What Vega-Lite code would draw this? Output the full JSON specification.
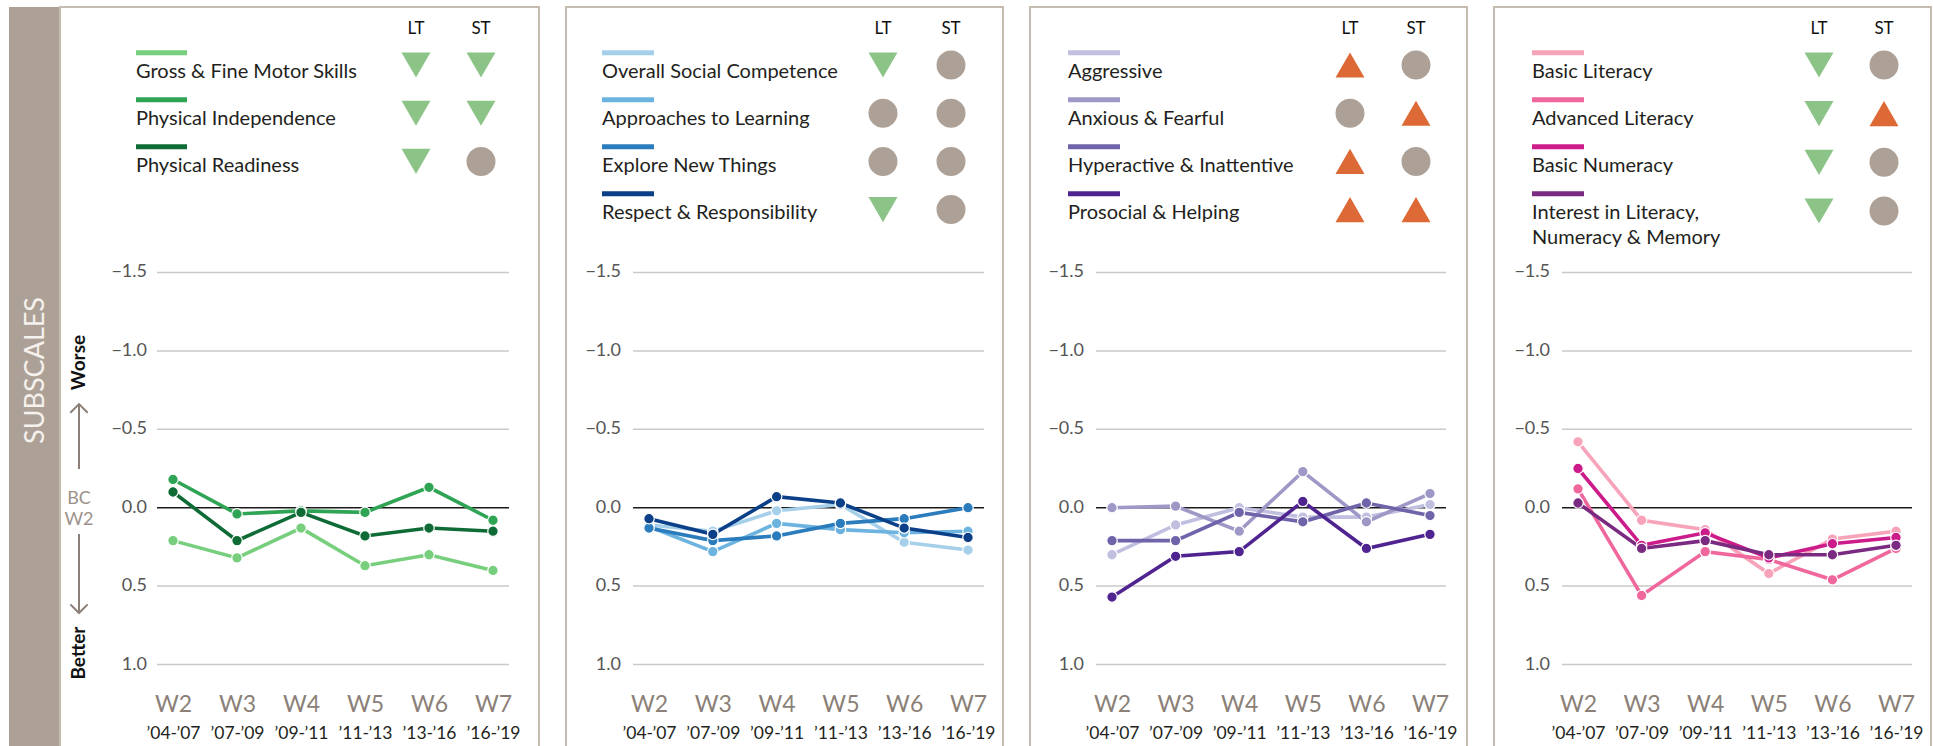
{
  "$schema": "https://vega.github.io/schema/vega-lite/v6.json",
  "padding": {"left": 9, "top": 6, "right": 0, "bottom": 0},
  "config": {
    "font": "Lato",
    "view": {"stroke": "#c6bbb1", "strokeWidth": 2},
    "text": {"font": "Lato"},
    "axis": {"labelFont": "Lato"}
  },
  "datasets": {
    "grid": [{"g": -1.5}, {"g": -1.0}, {"g": -0.5}, {"g": 0}, {"g": 0.5}, {"g": 1.0}],
    "lines": [
      {"panel": "Physical", "name": "Gross & Fine Motor Skills", "wave": "W2", "value": 0.21},
      {"panel": "Physical", "name": "Gross & Fine Motor Skills", "wave": "W3", "value": 0.32},
      {"panel": "Physical", "name": "Gross & Fine Motor Skills", "wave": "W4", "value": 0.13},
      {"panel": "Physical", "name": "Gross & Fine Motor Skills", "wave": "W5", "value": 0.37},
      {"panel": "Physical", "name": "Gross & Fine Motor Skills", "wave": "W6", "value": 0.30},
      {"panel": "Physical", "name": "Gross & Fine Motor Skills", "wave": "W7", "value": 0.40},
      {"panel": "Physical", "name": "Physical Independence", "wave": "W2", "value": -0.18},
      {"panel": "Physical", "name": "Physical Independence", "wave": "W3", "value": 0.04},
      {"panel": "Physical", "name": "Physical Independence", "wave": "W4", "value": 0.02},
      {"panel": "Physical", "name": "Physical Independence", "wave": "W5", "value": 0.03},
      {"panel": "Physical", "name": "Physical Independence", "wave": "W6", "value": -0.13},
      {"panel": "Physical", "name": "Physical Independence", "wave": "W7", "value": 0.08},
      {"panel": "Physical", "name": "Physical Readiness", "wave": "W2", "value": -0.10},
      {"panel": "Physical", "name": "Physical Readiness", "wave": "W3", "value": 0.21},
      {"panel": "Physical", "name": "Physical Readiness", "wave": "W4", "value": 0.03},
      {"panel": "Physical", "name": "Physical Readiness", "wave": "W5", "value": 0.18},
      {"panel": "Physical", "name": "Physical Readiness", "wave": "W6", "value": 0.13},
      {"panel": "Physical", "name": "Physical Readiness", "wave": "W7", "value": 0.15},
      {"panel": "Social", "name": "Overall Social Competence", "wave": "W2", "value": 0.11},
      {"panel": "Social", "name": "Overall Social Competence", "wave": "W3", "value": 0.15},
      {"panel": "Social", "name": "Overall Social Competence", "wave": "W4", "value": 0.02},
      {"panel": "Social", "name": "Overall Social Competence", "wave": "W5", "value": -0.02},
      {"panel": "Social", "name": "Overall Social Competence", "wave": "W6", "value": 0.22},
      {"panel": "Social", "name": "Overall Social Competence", "wave": "W7", "value": 0.27},
      {"panel": "Social", "name": "Approaches to Learning", "wave": "W2", "value": 0.12},
      {"panel": "Social", "name": "Approaches to Learning", "wave": "W3", "value": 0.28},
      {"panel": "Social", "name": "Approaches to Learning", "wave": "W4", "value": 0.10},
      {"panel": "Social", "name": "Approaches to Learning", "wave": "W5", "value": 0.14},
      {"panel": "Social", "name": "Approaches to Learning", "wave": "W6", "value": 0.16},
      {"panel": "Social", "name": "Approaches to Learning", "wave": "W7", "value": 0.15},
      {"panel": "Social", "name": "Explore New Things", "wave": "W2", "value": 0.13},
      {"panel": "Social", "name": "Explore New Things", "wave": "W3", "value": 0.21},
      {"panel": "Social", "name": "Explore New Things", "wave": "W4", "value": 0.18},
      {"panel": "Social", "name": "Explore New Things", "wave": "W5", "value": 0.10},
      {"panel": "Social", "name": "Explore New Things", "wave": "W6", "value": 0.07},
      {"panel": "Social", "name": "Explore New Things", "wave": "W7", "value": 0.00},
      {"panel": "Social", "name": "Respect & Responsibility", "wave": "W2", "value": 0.07},
      {"panel": "Social", "name": "Respect & Responsibility", "wave": "W3", "value": 0.17},
      {"panel": "Social", "name": "Respect & Responsibility", "wave": "W4", "value": -0.07},
      {"panel": "Social", "name": "Respect & Responsibility", "wave": "W5", "value": -0.03},
      {"panel": "Social", "name": "Respect & Responsibility", "wave": "W6", "value": 0.13},
      {"panel": "Social", "name": "Respect & Responsibility", "wave": "W7", "value": 0.19},
      {"panel": "Emotional", "name": "Aggressive", "wave": "W2", "value": 0.30},
      {"panel": "Emotional", "name": "Aggressive", "wave": "W3", "value": 0.11},
      {"panel": "Emotional", "name": "Aggressive", "wave": "W4", "value": 0.00},
      {"panel": "Emotional", "name": "Aggressive", "wave": "W5", "value": 0.06},
      {"panel": "Emotional", "name": "Aggressive", "wave": "W6", "value": 0.06},
      {"panel": "Emotional", "name": "Aggressive", "wave": "W7", "value": -0.02},
      {"panel": "Emotional", "name": "Anxious & Fearful", "wave": "W2", "value": 0.00},
      {"panel": "Emotional", "name": "Anxious & Fearful", "wave": "W3", "value": -0.01},
      {"panel": "Emotional", "name": "Anxious & Fearful", "wave": "W4", "value": 0.15},
      {"panel": "Emotional", "name": "Anxious & Fearful", "wave": "W5", "value": -0.23},
      {"panel": "Emotional", "name": "Anxious & Fearful", "wave": "W6", "value": 0.09},
      {"panel": "Emotional", "name": "Anxious & Fearful", "wave": "W7", "value": -0.09},
      {"panel": "Emotional", "name": "Hyperactive & Inattentive", "wave": "W2", "value": 0.21},
      {"panel": "Emotional", "name": "Hyperactive & Inattentive", "wave": "W3", "value": 0.21},
      {"panel": "Emotional", "name": "Hyperactive & Inattentive", "wave": "W4", "value": 0.03},
      {"panel": "Emotional", "name": "Hyperactive & Inattentive", "wave": "W5", "value": 0.09},
      {"panel": "Emotional", "name": "Hyperactive & Inattentive", "wave": "W6", "value": -0.03},
      {"panel": "Emotional", "name": "Hyperactive & Inattentive", "wave": "W7", "value": 0.05},
      {"panel": "Emotional", "name": "Prosocial & Helping", "wave": "W2", "value": 0.57},
      {"panel": "Emotional", "name": "Prosocial & Helping", "wave": "W3", "value": 0.31},
      {"panel": "Emotional", "name": "Prosocial & Helping", "wave": "W4", "value": 0.28},
      {"panel": "Emotional", "name": "Prosocial & Helping", "wave": "W5", "value": -0.04},
      {"panel": "Emotional", "name": "Prosocial & Helping", "wave": "W6", "value": 0.26},
      {"panel": "Emotional", "name": "Prosocial & Helping", "wave": "W7", "value": 0.17},
      {"panel": "Language", "name": "Basic Literacy", "wave": "W2", "value": -0.42},
      {"panel": "Language", "name": "Basic Literacy", "wave": "W3", "value": 0.08},
      {"panel": "Language", "name": "Basic Literacy", "wave": "W4", "value": 0.14},
      {"panel": "Language", "name": "Basic Literacy", "wave": "W5", "value": 0.42},
      {"panel": "Language", "name": "Basic Literacy", "wave": "W6", "value": 0.20},
      {"panel": "Language", "name": "Basic Literacy", "wave": "W7", "value": 0.15},
      {"panel": "Language", "name": "Advanced Literacy", "wave": "W2", "value": -0.12},
      {"panel": "Language", "name": "Advanced Literacy", "wave": "W3", "value": 0.56},
      {"panel": "Language", "name": "Advanced Literacy", "wave": "W4", "value": 0.28},
      {"panel": "Language", "name": "Advanced Literacy", "wave": "W5", "value": 0.33},
      {"panel": "Language", "name": "Advanced Literacy", "wave": "W6", "value": 0.46},
      {"panel": "Language", "name": "Advanced Literacy", "wave": "W7", "value": 0.26},
      {"panel": "Language", "name": "Basic Numeracy", "wave": "W2", "value": -0.25},
      {"panel": "Language", "name": "Basic Numeracy", "wave": "W3", "value": 0.24},
      {"panel": "Language", "name": "Basic Numeracy", "wave": "W4", "value": 0.16},
      {"panel": "Language", "name": "Basic Numeracy", "wave": "W5", "value": 0.32},
      {"panel": "Language", "name": "Basic Numeracy", "wave": "W6", "value": 0.23},
      {"panel": "Language", "name": "Basic Numeracy", "wave": "W7", "value": 0.19},
      {"panel": "Language", "name": "Interest in Literacy, Numeracy & Memory", "wave": "W2", "value": -0.03},
      {"panel": "Language", "name": "Interest in Literacy, Numeracy & Memory", "wave": "W3", "value": 0.26},
      {"panel": "Language", "name": "Interest in Literacy, Numeracy & Memory", "wave": "W4", "value": 0.21},
      {"panel": "Language", "name": "Interest in Literacy, Numeracy & Memory", "wave": "W5", "value": 0.30},
      {"panel": "Language", "name": "Interest in Literacy, Numeracy & Memory", "wave": "W6", "value": 0.30},
      {"panel": "Language", "name": "Interest in Literacy, Numeracy & Memory", "wave": "W7", "value": 0.24}
    ],
    "legend": [
      {"panel": "Physical", "name": "Gross & Fine Motor Skills", "label": "Gross & Fine Motor Skills", "LT": "down", "ST": "down"},
      {"panel": "Physical", "name": "Physical Independence", "label": "Physical Independence", "LT": "down", "ST": "down"},
      {"panel": "Physical", "name": "Physical Readiness", "label": "Physical Readiness", "LT": "down", "ST": "none"},
      {"panel": "Social", "name": "Overall Social Competence", "label": "Overall Social Competence", "LT": "down", "ST": "none"},
      {"panel": "Social", "name": "Approaches to Learning", "label": "Approaches to Learning", "LT": "none", "ST": "none"},
      {"panel": "Social", "name": "Explore New Things", "label": "Explore New Things", "LT": "none", "ST": "none"},
      {"panel": "Social", "name": "Respect & Responsibility", "label": "Respect & Responsibility", "LT": "down", "ST": "none"},
      {"panel": "Emotional", "name": "Aggressive", "label": "Aggressive", "LT": "up", "ST": "none"},
      {"panel": "Emotional", "name": "Anxious & Fearful", "label": "Anxious & Fearful", "LT": "none", "ST": "up"},
      {"panel": "Emotional", "name": "Hyperactive & Inattentive", "label": "Hyperactive & Inattentive", "LT": "up", "ST": "none"},
      {"panel": "Emotional", "name": "Prosocial & Helping", "label": "Prosocial & Helping", "LT": "up", "ST": "up"},
      {"panel": "Language", "name": "Basic Literacy", "label": "Basic Literacy", "LT": "down", "ST": "none"},
      {"panel": "Language", "name": "Advanced Literacy", "label": "Advanced Literacy", "LT": "down", "ST": "up"},
      {"panel": "Language", "name": "Basic Numeracy", "label": "Basic Numeracy", "LT": "down", "ST": "none"},
      {"panel": "Language", "name": "Interest in Literacy, Numeracy & Memory", "label": "Interest in Literacy,\nNumeracy & Memory", "LT": "down", "ST": "none"}
    ]
  },
  "spacing": 25,
  "hconcat": [
    {
      "spacing": 0,
      "hconcat": [
        {
          "width": 50,
          "height": 745,
          "view": {"fill": "#ada197", "stroke": null},
          "data": {"values": [{}]},
          "mark": {"type": "text", "angle": 270, "fontSize": 27, "color": "#f5f1ed", "yOffset": -9, "xOffset": 2, "letterSpacing": 0.5},
          "encoding": {"text": {"value": "SUBSCALES"}}
        },
        {
          "width": 479,
          "height": 745,
          "resolve": {"scale": {"x": "independent", "y": "independent", "color": "independent", "shape": "independent"}},
          "layer": [
            {
              "resolve": {"axis": {"x": "independent"}},
              "layer": [
                {
                  "data": {"name": "grid"},
                  "transform": [{"filter": "datum.g != 0"}],
                  "mark": {"type": "rule", "color": "#c9c9c9", "strokeWidth": 1.5, "xOffset": -16, "x2Offset": 16},
                  "encoding": {
                    "x": {"datum": "W2", "type": "nominal", "scale": {"type": "point", "domain": ["W2", "W3", "W4", "W5", "W6", "W7"], "range": [113, 433], "padding": 0}, "axis": null},
                    "x2": {"datum": "W7"},
                    "y": {"field": "g", "type": "quantitative", "scale": {"domain": [-3.193, 1.558], "reverse": true, "zero": false, "nice": false}, "axis": null}
                  }
                },
                {
                  "data": {"name": "grid"},
                  "mark": {"type": "text", "align": "right", "baseline": "middle", "fontSize": 18, "color": "#555555", "xOffset": -26},
                  "encoding": {
                    "x": {"datum": "W2", "type": "nominal", "scale": {"type": "point", "domain": ["W2", "W3", "W4", "W5", "W6", "W7"], "range": [113, 433], "padding": 0}, "axis": null},
                    "y": {"field": "g", "type": "quantitative", "scale": {"domain": [-3.193, 1.558], "reverse": true, "zero": false, "nice": false}, "axis": null},
                    "text": {"field": "g", "type": "quantitative", "format": ".1f"}
                  }
                },
                {
                  "data": {"values": [{}]},
                  "mark": {"type": "rule", "color": "#1a1a1a", "strokeWidth": 1.5, "xOffset": -16, "x2Offset": 16},
                  "encoding": {
                    "x": {"datum": "W2", "type": "nominal", "scale": {"type": "point", "domain": ["W2", "W3", "W4", "W5", "W6", "W7"], "range": [113, 433], "padding": 0}, "axis": null},
                    "x2": {"datum": "W7"},
                    "y": {"datum": 0, "type": "quantitative", "scale": {"domain": [-3.193, 1.558], "reverse": true, "zero": false, "nice": false}, "axis": null}
                  }
                },
                {
                  "data": {"name": "lines"},
                  "transform": [{"filter": "datum.panel == 'Physical'"}],
                  "mark": {"type": "line", "strokeWidth": 3.6},
                  "encoding": {
                    "x": {"field": "wave", "type": "nominal", "scale": {"type": "point", "domain": ["W2", "W3", "W4", "W5", "W6", "W7"], "range": [113, 433], "padding": 0},
                      "axis": {"orient": "bottom", "offset": -48, "domain": false, "ticks": false, "tickSize": 0, "grid": false, "labelPadding": 0, "labelBaseline": "middle", "labelAngle": 0, "labelFontSize": 23, "labelColor": "#8b7f77", "title": null}},
                    "y": {"field": "value", "type": "quantitative", "scale": {"domain": [-3.193, 1.558], "reverse": true, "zero": false, "nice": false}, "axis": null},
                    "color": {"field": "name", "type": "nominal", "scale": {"domain": ["Gross & Fine Motor Skills", "Physical Independence", "Physical Readiness"], "range": ["#77cf7d", "#2fa454", "#0e6b35"]}, "legend": null}
                  }
                },
                {
                  "data": {"name": "lines"},
                  "transform": [{"filter": "datum.panel == 'Physical'"}],
                  "mark": {"type": "point", "filled": true, "size": 110, "opacity": 1, "stroke": "white", "strokeWidth": 1.2},
                  "encoding": {
                    "x": {"field": "wave", "type": "nominal", "scale": {"type": "point", "domain": ["W2", "W3", "W4", "W5", "W6", "W7"], "range": [113, 433], "padding": 0},
                      "axis": {"orient": "bottom", "offset": -19, "domain": false, "ticks": false, "tickSize": 0, "grid": false, "labelPadding": 0, "labelBaseline": "middle", "labelAngle": 0, "labelFontSize": 17.5, "labelColor": "#231f20", "title": null,
                        "labelExpr": "datum.value == 'W2' ? '’04-’07' : datum.value == 'W3' ? '’07-’09' : datum.value == 'W4' ? '’09-’11' : datum.value == 'W5' ? '’11-’13' : datum.value == 'W6' ? '’13-’16' : '’16-’19'"}},
                    "y": {"field": "value", "type": "quantitative", "scale": {"domain": [-3.193, 1.558], "reverse": true, "zero": false, "nice": false}, "axis": null},
                    "color": {"field": "name", "type": "nominal", "scale": {"domain": ["Gross & Fine Motor Skills", "Physical Independence", "Physical Readiness"], "range": ["#77cf7d", "#2fa454", "#0e6b35"]}, "legend": null}
                  }
                },
                {
                  "data": {"values": [{}]},
                  "mark": {"type": "text", "angle": 270, "fontSize": 19, "fontWeight": "bold", "color": "#111111", "xOffset": -94},
                  "encoding": {
                    "x": {"datum": "W2", "type": "nominal", "scale": {"type": "point", "domain": ["W2", "W3", "W4", "W5", "W6", "W7"], "range": [113, 433], "padding": 0}, "axis": null},
                    "y": {"datum": -0.926, "type": "quantitative", "scale": {"domain": [-3.193, 1.558], "reverse": true, "zero": false, "nice": false}, "axis": null},
                    "text": {"value": "Worse"}
                  }
                },
                {
                  "data": {"values": [{}]},
                  "mark": {"type": "text", "angle": 270, "fontSize": 19, "fontWeight": "bold", "color": "#111111", "xOffset": -94},
                  "encoding": {
                    "x": {"datum": "W2", "type": "nominal", "scale": {"type": "point", "domain": ["W2", "W3", "W4", "W5", "W6", "W7"], "range": [113, 433], "padding": 0}, "axis": null},
                    "y": {"datum": 0.927, "type": "quantitative", "scale": {"domain": [-3.193, 1.558], "reverse": true, "zero": false, "nice": false}, "axis": null},
                    "text": {"value": "Better"}
                  }
                },
                {
                  "data": {"values": [{}]},
                  "mark": {"type": "text", "fontSize": 18, "color": "#9c918a", "xOffset": -94},
                  "encoding": {
                    "x": {"datum": "W2", "type": "nominal", "scale": {"type": "point", "domain": ["W2", "W3", "W4", "W5", "W6", "W7"], "range": [113, 433], "padding": 0}, "axis": null},
                    "y": {"datum": -0.055, "type": "quantitative", "scale": {"domain": [-3.193, 1.558], "reverse": true, "zero": false, "nice": false}, "axis": null},
                    "text": {"value": "BC"}
                  }
                },
                {
                  "data": {"values": [{}]},
                  "mark": {"type": "text", "fontSize": 18, "color": "#9c918a", "xOffset": -94},
                  "encoding": {
                    "x": {"datum": "W2", "type": "nominal", "scale": {"type": "point", "domain": ["W2", "W3", "W4", "W5", "W6", "W7"], "range": [113, 433], "padding": 0}, "axis": null},
                    "y": {"datum": 0.08, "type": "quantitative", "scale": {"domain": [-3.193, 1.558], "reverse": true, "zero": false, "nice": false}, "axis": null},
                    "text": {"value": "W2"}
                  }
                },
                {
                  "data": {"values": [{}]},
                  "mark": {"type": "rule", "color": "#8b7f77", "strokeWidth": 2, "xOffset": -94},
                  "encoding": {
                    "x": {"datum": "W2", "type": "nominal", "scale": {"type": "point", "domain": ["W2", "W3", "W4", "W5", "W6", "W7"], "range": [113, 433], "padding": 0}, "axis": null},
                    "y": {"datum": -0.661, "type": "quantitative", "scale": {"domain": [-3.193, 1.558], "reverse": true, "zero": false, "nice": false}, "axis": null},
                    "y2": {"datum": -0.247}
                  }
                },
                {
                  "data": {"values": [{}]},
                  "mark": {"type": "rule", "color": "#8b7f77", "strokeWidth": 2, "xOffset": -94},
                  "encoding": {
                    "x": {"datum": "W2", "type": "nominal", "scale": {"type": "point", "domain": ["W2", "W3", "W4", "W5", "W6", "W7"], "range": [113, 433], "padding": 0}, "axis": null},
                    "y": {"datum": 0.168, "type": "quantitative", "scale": {"domain": [-3.193, 1.558], "reverse": true, "zero": false, "nice": false}, "axis": null},
                    "y2": {"datum": 0.672}
                  }
                },
                {
                  "data": {"values": [{}]},
                  "mark": {"type": "point", "shape": "M-1,1L0,0L1,1", "size": 300, "filled": false, "opacity": 1, "stroke": "#8b7f77", "strokeWidth": 2, "xOffset": -94},
                  "encoding": {
                    "x": {"datum": "W2", "type": "nominal", "scale": {"type": "point", "domain": ["W2", "W3", "W4", "W5", "W6", "W7"], "range": [113, 433], "padding": 0}, "axis": null},
                    "y": {"datum": -0.661, "type": "quantitative", "scale": {"domain": [-3.193, 1.558], "reverse": true, "zero": false, "nice": false}, "axis": null}
                  }
                },
                {
                  "data": {"values": [{}]},
                  "mark": {"type": "point", "shape": "M-1,-1L0,0L1,-1", "size": 300, "filled": false, "opacity": 1, "stroke": "#8b7f77", "strokeWidth": 2, "xOffset": -94},
                  "encoding": {
                    "x": {"datum": "W2", "type": "nominal", "scale": {"type": "point", "domain": ["W2", "W3", "W4", "W5", "W6", "W7"], "range": [113, 433], "padding": 0}, "axis": null},
                    "y": {"datum": 0.672, "type": "quantitative", "scale": {"domain": [-3.193, 1.558], "reverse": true, "zero": false, "nice": false}, "axis": null}
                  }
                }
              ]
            },
            {
              "data": {"name": "legend"},
              "transform": [{"filter": "datum.panel == 'Physical'"}],
              "mark": {"type": "rule", "strokeWidth": 5, "strokeCap": "butt", "xOffset": -280, "x2Offset": -229, "yOffset": -25.6},
              "encoding": {
                "x": {"datum": "LT", "type": "nominal", "scale": {"type": "point", "domain": ["LT", "ST"], "range": [356, 421], "padding": 0}, "axis": null},
                "x2": {"datum": "LT"},
                "y": {"field": "name", "type": "nominal", "scale": {"type": "point", "domain": ["Gross & Fine Motor Skills", "Physical Independence", "Physical Readiness"], "range": [71.3, 165.3], "padding": 0}, "axis": null},
                "color": {"field": "name", "type": "nominal", "scale": {"domain": ["Gross & Fine Motor Skills", "Physical Independence", "Physical Readiness"], "range": ["#77cf7d", "#2fa454", "#0e6b35"]}, "legend": null}
              }
            },
            {
              "data": {"name": "legend"},
              "transform": [{"filter": "datum.panel == 'Physical'"}],
              "mark": {"type": "text", "align": "left", "baseline": "alphabetic", "xOffset": -280, "fontSize": 20, "color": "#231f20", "lineBreak": "\n", "lineHeight": 25},
              "encoding": {
                "x": {"datum": "LT", "type": "nominal", "scale": {"type": "point", "domain": ["LT", "ST"], "range": [356, 421], "padding": 0}, "axis": null},
                "y": {"field": "name", "type": "nominal", "scale": {"type": "point", "domain": ["Gross & Fine Motor Skills", "Physical Independence", "Physical Readiness"], "range": [71.3, 165.3], "padding": 0}, "axis": null},
                "text": {"field": "label"}
              }
            },
            {
              "data": {"name": "legend"},
              "transform": [{"filter": "datum.panel == 'Physical'"}, {"fold": ["LT", "ST"], "as": ["col", "dir"]}],
              "mark": {"type": "point", "filled": true, "size": 840, "opacity": 1},
              "encoding": {
                "x": {"field": "col", "type": "nominal", "scale": {"type": "point", "domain": ["LT", "ST"], "range": [356, 421], "padding": 0}, "axis": null},
                "y": {"field": "name", "type": "nominal", "scale": {"type": "point", "domain": ["Gross & Fine Motor Skills", "Physical Independence", "Physical Readiness"], "range": [58, 154.4], "padding": 0}, "axis": null},
                "shape": {"field": "dir", "type": "nominal", "scale": {"domain": ["down", "up", "none"], "range": ["triangle-down", "triangle-up", "circle"]}, "legend": null},
                "color": {"field": "dir", "type": "nominal", "scale": {"domain": ["down", "up", "none"], "range": ["#8cc488", "#dd6a36", "#ada197"]}, "legend": null}
              }
            },
            {
              "data": {"values": [{"col": "LT"}, {"col": "ST"}]},
              "mark": {"type": "text", "align": "center", "baseline": "alphabetic", "yOffset": -44, "fontSize": 17, "color": "#111111"},
              "encoding": {
                "x": {"field": "col", "type": "nominal", "scale": {"type": "point", "domain": ["LT", "ST"], "range": [356, 421], "padding": 0}, "axis": null},
                "y": {"datum": "Gross & Fine Motor Skills", "type": "nominal", "scale": {"type": "point", "domain": ["Gross & Fine Motor Skills", "Physical Independence", "Physical Readiness"], "range": [71.3, 165.3], "padding": 0}, "axis": null},
                "text": {"field": "col"}
              }
            }
          ]
        }
      ]
    },
    {
      "width": 437,
      "height": 745,
      "resolve": {"scale": {"x": "independent", "y": "independent", "color": "independent", "shape": "independent"}},
      "layer": [
        {
          "resolve": {"axis": {"x": "independent"}},
          "layer": [
            {
              "data": {"name": "grid"},
              "transform": [{"filter": "datum.g != 0"}],
              "mark": {"type": "rule", "color": "#c9c9c9", "strokeWidth": 1.5, "xOffset": -16, "x2Offset": 16},
              "encoding": {
                "x": {"datum": "W2", "type": "nominal", "scale": {"type": "point", "domain": ["W2", "W3", "W4", "W5", "W6", "W7"], "range": [83, 402], "padding": 0}, "axis": null},
                "x2": {"datum": "W7"},
                "y": {"field": "g", "type": "quantitative", "scale": {"domain": [-3.193, 1.558], "reverse": true, "zero": false, "nice": false}, "axis": null}
              }
            },
            {
              "data": {"name": "grid"},
              "mark": {"type": "text", "align": "right", "baseline": "middle", "fontSize": 18, "color": "#555555", "xOffset": -28},
              "encoding": {
                "x": {"datum": "W2", "type": "nominal", "scale": {"type": "point", "domain": ["W2", "W3", "W4", "W5", "W6", "W7"], "range": [83, 402], "padding": 0}, "axis": null},
                "y": {"field": "g", "type": "quantitative", "scale": {"domain": [-3.193, 1.558], "reverse": true, "zero": false, "nice": false}, "axis": null},
                "text": {"field": "g", "type": "quantitative", "format": ".1f"}
              }
            },
            {
              "data": {"values": [{}]},
              "mark": {"type": "rule", "color": "#1a1a1a", "strokeWidth": 1.5, "xOffset": -16, "x2Offset": 16},
              "encoding": {
                "x": {"datum": "W2", "type": "nominal", "scale": {"type": "point", "domain": ["W2", "W3", "W4", "W5", "W6", "W7"], "range": [83, 402], "padding": 0}, "axis": null},
                "x2": {"datum": "W7"},
                "y": {"datum": 0, "type": "quantitative", "scale": {"domain": [-3.193, 1.558], "reverse": true, "zero": false, "nice": false}, "axis": null}
              }
            },
            {
              "data": {"name": "lines"},
              "transform": [{"filter": "datum.panel == 'Social'"}],
              "mark": {"type": "line", "strokeWidth": 3.6},
              "encoding": {
                "x": {"field": "wave", "type": "nominal", "scale": {"type": "point", "domain": ["W2", "W3", "W4", "W5", "W6", "W7"], "range": [83, 402], "padding": 0},
                  "axis": {"orient": "bottom", "offset": -48, "domain": false, "ticks": false, "tickSize": 0, "grid": false, "labelPadding": 0, "labelBaseline": "middle", "labelAngle": 0, "labelFontSize": 23, "labelColor": "#8b7f77", "title": null}},
                "y": {"field": "value", "type": "quantitative", "scale": {"domain": [-3.193, 1.558], "reverse": true, "zero": false, "nice": false}, "axis": null},
                "color": {"field": "name", "type": "nominal", "scale": {"domain": ["Overall Social Competence", "Approaches to Learning", "Explore New Things", "Respect & Responsibility"], "range": ["#a6d0ea", "#6cb3e0", "#2b7cbc", "#0b3f87"]}, "legend": null}
              }
            },
            {
              "data": {"name": "lines"},
              "transform": [{"filter": "datum.panel == 'Social'"}],
              "mark": {"type": "point", "filled": true, "size": 110, "opacity": 1, "stroke": "white", "strokeWidth": 1.2},
              "encoding": {
                "x": {"field": "wave", "type": "nominal", "scale": {"type": "point", "domain": ["W2", "W3", "W4", "W5", "W6", "W7"], "range": [83, 402], "padding": 0},
                  "axis": {"orient": "bottom", "offset": -19, "domain": false, "ticks": false, "tickSize": 0, "grid": false, "labelPadding": 0, "labelBaseline": "middle", "labelAngle": 0, "labelFontSize": 17.5, "labelColor": "#231f20", "title": null,
                    "labelExpr": "datum.value == 'W2' ? '’04-’07' : datum.value == 'W3' ? '’07-’09' : datum.value == 'W4' ? '’09-’11' : datum.value == 'W5' ? '’11-’13' : datum.value == 'W6' ? '’13-’16' : '’16-’19'"}},
                "y": {"field": "value", "type": "quantitative", "scale": {"domain": [-3.193, 1.558], "reverse": true, "zero": false, "nice": false}, "axis": null},
                "color": {"field": "name", "type": "nominal", "scale": {"domain": ["Overall Social Competence", "Approaches to Learning", "Explore New Things", "Respect & Responsibility"], "range": ["#a6d0ea", "#6cb3e0", "#2b7cbc", "#0b3f87"]}, "legend": null}
              }
            }
          ]
        },
        {
          "data": {"name": "legend"},
          "transform": [{"filter": "datum.panel == 'Social'"}],
          "mark": {"type": "rule", "strokeWidth": 5, "strokeCap": "butt", "xOffset": -281, "x2Offset": -229, "yOffset": -25.6},
          "encoding": {
            "x": {"datum": "LT", "type": "nominal", "scale": {"type": "point", "domain": ["LT", "ST"], "range": [317, 385], "padding": 0}, "axis": null},
            "x2": {"datum": "LT"},
            "y": {"field": "name", "type": "nominal", "scale": {"type": "point", "domain": ["Overall Social Competence", "Approaches to Learning", "Explore New Things", "Respect & Responsibility"], "range": [71.3, 212.3], "padding": 0}, "axis": null},
            "color": {"field": "name", "type": "nominal", "scale": {"domain": ["Overall Social Competence", "Approaches to Learning", "Explore New Things", "Respect & Responsibility"], "range": ["#a6d0ea", "#6cb3e0", "#2b7cbc", "#0b3f87"]}, "legend": null}
          }
        },
        {
          "data": {"name": "legend"},
          "transform": [{"filter": "datum.panel == 'Social'"}],
          "mark": {"type": "text", "align": "left", "baseline": "alphabetic", "xOffset": -281, "fontSize": 20, "color": "#231f20", "lineBreak": "\n", "lineHeight": 25},
          "encoding": {
            "x": {"datum": "LT", "type": "nominal", "scale": {"type": "point", "domain": ["LT", "ST"], "range": [317, 385], "padding": 0}, "axis": null},
            "y": {"field": "name", "type": "nominal", "scale": {"type": "point", "domain": ["Overall Social Competence", "Approaches to Learning", "Explore New Things", "Respect & Responsibility"], "range": [71.3, 212.3], "padding": 0}, "axis": null},
            "text": {"field": "label"}
          }
        },
        {
          "data": {"name": "legend"},
          "transform": [{"filter": "datum.panel == 'Social'"}, {"fold": ["LT", "ST"], "as": ["col", "dir"]}],
          "mark": {"type": "point", "filled": true, "size": 840, "opacity": 1},
          "encoding": {
            "x": {"field": "col", "type": "nominal", "scale": {"type": "point", "domain": ["LT", "ST"], "range": [317, 385], "padding": 0}, "axis": null},
            "y": {"field": "name", "type": "nominal", "scale": {"type": "point", "domain": ["Overall Social Competence", "Approaches to Learning", "Explore New Things", "Respect & Responsibility"], "range": [58, 202.6], "padding": 0}, "axis": null},
            "shape": {"field": "dir", "type": "nominal", "scale": {"domain": ["down", "up", "none"], "range": ["triangle-down", "triangle-up", "circle"]}, "legend": null},
            "color": {"field": "dir", "type": "nominal", "scale": {"domain": ["down", "up", "none"], "range": ["#8cc488", "#dd6a36", "#ada197"]}, "legend": null}
          }
        },
        {
          "data": {"values": [{"col": "LT"}, {"col": "ST"}]},
          "mark": {"type": "text", "align": "center", "baseline": "alphabetic", "yOffset": -44, "fontSize": 17, "color": "#111111"},
          "encoding": {
            "x": {"field": "col", "type": "nominal", "scale": {"type": "point", "domain": ["LT", "ST"], "range": [317, 385], "padding": 0}, "axis": null},
            "y": {"datum": "Overall Social Competence", "type": "nominal", "scale": {"type": "point", "domain": ["Overall Social Competence", "Approaches to Learning", "Explore New Things", "Respect & Responsibility"], "range": [71.3, 212.3], "padding": 0}, "axis": null},
            "text": {"field": "col"}
          }
        }
      ]
    },
    {
      "width": 437,
      "height": 745,
      "resolve": {"scale": {"x": "independent", "y": "independent", "color": "independent", "shape": "independent"}},
      "layer": [
        {
          "resolve": {"axis": {"x": "independent"}},
          "layer": [
            {
              "data": {"name": "grid"},
              "transform": [{"filter": "datum.g != 0"}],
              "mark": {"type": "rule", "color": "#c9c9c9", "strokeWidth": 1.5, "xOffset": -16, "x2Offset": 16},
              "encoding": {
                "x": {"datum": "W2", "type": "nominal", "scale": {"type": "point", "domain": ["W2", "W3", "W4", "W5", "W6", "W7"], "range": [82, 400], "padding": 0}, "axis": null},
                "x2": {"datum": "W7"},
                "y": {"field": "g", "type": "quantitative", "scale": {"domain": [-3.193, 1.558], "reverse": true, "zero": false, "nice": false}, "axis": null}
              }
            },
            {
              "data": {"name": "grid"},
              "mark": {"type": "text", "align": "right", "baseline": "middle", "fontSize": 18, "color": "#555555", "xOffset": -28},
              "encoding": {
                "x": {"datum": "W2", "type": "nominal", "scale": {"type": "point", "domain": ["W2", "W3", "W4", "W5", "W6", "W7"], "range": [82, 400], "padding": 0}, "axis": null},
                "y": {"field": "g", "type": "quantitative", "scale": {"domain": [-3.193, 1.558], "reverse": true, "zero": false, "nice": false}, "axis": null},
                "text": {"field": "g", "type": "quantitative", "format": ".1f"}
              }
            },
            {
              "data": {"values": [{}]},
              "mark": {"type": "rule", "color": "#1a1a1a", "strokeWidth": 1.5, "xOffset": -16, "x2Offset": 16},
              "encoding": {
                "x": {"datum": "W2", "type": "nominal", "scale": {"type": "point", "domain": ["W2", "W3", "W4", "W5", "W6", "W7"], "range": [82, 400], "padding": 0}, "axis": null},
                "x2": {"datum": "W7"},
                "y": {"datum": 0, "type": "quantitative", "scale": {"domain": [-3.193, 1.558], "reverse": true, "zero": false, "nice": false}, "axis": null}
              }
            },
            {
              "data": {"name": "lines"},
              "transform": [{"filter": "datum.panel == 'Emotional'"}],
              "mark": {"type": "line", "strokeWidth": 3.6},
              "encoding": {
                "x": {"field": "wave", "type": "nominal", "scale": {"type": "point", "domain": ["W2", "W3", "W4", "W5", "W6", "W7"], "range": [82, 400], "padding": 0},
                  "axis": {"orient": "bottom", "offset": -48, "domain": false, "ticks": false, "tickSize": 0, "grid": false, "labelPadding": 0, "labelBaseline": "middle", "labelAngle": 0, "labelFontSize": 23, "labelColor": "#8b7f77", "title": null}},
                "y": {"field": "value", "type": "quantitative", "scale": {"domain": [-3.193, 1.558], "reverse": true, "zero": false, "nice": false}, "axis": null},
                "color": {"field": "name", "type": "nominal", "scale": {"domain": ["Aggressive", "Anxious & Fearful", "Hyperactive & Inattentive", "Prosocial & Helping"], "range": ["#c0bfe0", "#9d98c6", "#6f63aa", "#4f2390"]}, "legend": null}
              }
            },
            {
              "data": {"name": "lines"},
              "transform": [{"filter": "datum.panel == 'Emotional'"}],
              "mark": {"type": "point", "filled": true, "size": 110, "opacity": 1, "stroke": "white", "strokeWidth": 1.2},
              "encoding": {
                "x": {"field": "wave", "type": "nominal", "scale": {"type": "point", "domain": ["W2", "W3", "W4", "W5", "W6", "W7"], "range": [82, 400], "padding": 0},
                  "axis": {"orient": "bottom", "offset": -19, "domain": false, "ticks": false, "tickSize": 0, "grid": false, "labelPadding": 0, "labelBaseline": "middle", "labelAngle": 0, "labelFontSize": 17.5, "labelColor": "#231f20", "title": null,
                    "labelExpr": "datum.value == 'W2' ? '’04-’07' : datum.value == 'W3' ? '’07-’09' : datum.value == 'W4' ? '’09-’11' : datum.value == 'W5' ? '’11-’13' : datum.value == 'W6' ? '’13-’16' : '’16-’19'"}},
                "y": {"field": "value", "type": "quantitative", "scale": {"domain": [-3.193, 1.558], "reverse": true, "zero": false, "nice": false}, "axis": null},
                "color": {"field": "name", "type": "nominal", "scale": {"domain": ["Aggressive", "Anxious & Fearful", "Hyperactive & Inattentive", "Prosocial & Helping"], "range": ["#c0bfe0", "#9d98c6", "#6f63aa", "#4f2390"]}, "legend": null}
              }
            }
          ]
        },
        {
          "data": {"name": "legend"},
          "transform": [{"filter": "datum.panel == 'Emotional'"}],
          "mark": {"type": "rule", "strokeWidth": 5, "strokeCap": "butt", "xOffset": -282, "x2Offset": -230, "yOffset": -25.6},
          "encoding": {
            "x": {"datum": "LT", "type": "nominal", "scale": {"type": "point", "domain": ["LT", "ST"], "range": [320, 386], "padding": 0}, "axis": null},
            "x2": {"datum": "LT"},
            "y": {"field": "name", "type": "nominal", "scale": {"type": "point", "domain": ["Aggressive", "Anxious & Fearful", "Hyperactive & Inattentive", "Prosocial & Helping"], "range": [71.3, 212.3], "padding": 0}, "axis": null},
            "color": {"field": "name", "type": "nominal", "scale": {"domain": ["Aggressive", "Anxious & Fearful", "Hyperactive & Inattentive", "Prosocial & Helping"], "range": ["#c0bfe0", "#9d98c6", "#6f63aa", "#4f2390"]}, "legend": null}
          }
        },
        {
          "data": {"name": "legend"},
          "transform": [{"filter": "datum.panel == 'Emotional'"}],
          "mark": {"type": "text", "align": "left", "baseline": "alphabetic", "xOffset": -282, "fontSize": 20, "color": "#231f20", "lineBreak": "\n", "lineHeight": 25},
          "encoding": {
            "x": {"datum": "LT", "type": "nominal", "scale": {"type": "point", "domain": ["LT", "ST"], "range": [320, 386], "padding": 0}, "axis": null},
            "y": {"field": "name", "type": "nominal", "scale": {"type": "point", "domain": ["Aggressive", "Anxious & Fearful", "Hyperactive & Inattentive", "Prosocial & Helping"], "range": [71.3, 212.3], "padding": 0}, "axis": null},
            "text": {"field": "label"}
          }
        },
        {
          "data": {"name": "legend"},
          "transform": [{"filter": "datum.panel == 'Emotional'"}, {"fold": ["LT", "ST"], "as": ["col", "dir"]}],
          "mark": {"type": "point", "filled": true, "size": 840, "opacity": 1},
          "encoding": {
            "x": {"field": "col", "type": "nominal", "scale": {"type": "point", "domain": ["LT", "ST"], "range": [320, 386], "padding": 0}, "axis": null},
            "y": {"field": "name", "type": "nominal", "scale": {"type": "point", "domain": ["Aggressive", "Anxious & Fearful", "Hyperactive & Inattentive", "Prosocial & Helping"], "range": [58, 202.6], "padding": 0}, "axis": null},
            "shape": {"field": "dir", "type": "nominal", "scale": {"domain": ["down", "up", "none"], "range": ["triangle-down", "triangle-up", "circle"]}, "legend": null},
            "color": {"field": "dir", "type": "nominal", "scale": {"domain": ["down", "up", "none"], "range": ["#8cc488", "#dd6a36", "#ada197"]}, "legend": null}
          }
        },
        {
          "data": {"values": [{"col": "LT"}, {"col": "ST"}]},
          "mark": {"type": "text", "align": "center", "baseline": "alphabetic", "yOffset": -44, "fontSize": 17, "color": "#111111"},
          "encoding": {
            "x": {"field": "col", "type": "nominal", "scale": {"type": "point", "domain": ["LT", "ST"], "range": [320, 386], "padding": 0}, "axis": null},
            "y": {"datum": "Aggressive", "type": "nominal", "scale": {"type": "point", "domain": ["Aggressive", "Anxious & Fearful", "Hyperactive & Inattentive", "Prosocial & Helping"], "range": [71.3, 212.3], "padding": 0}, "axis": null},
            "text": {"field": "col"}
          }
        }
      ]
    },
    {
      "width": 437,
      "height": 745,
      "resolve": {"scale": {"x": "independent", "y": "independent", "color": "independent", "shape": "independent"}},
      "layer": [
        {
          "resolve": {"axis": {"x": "independent"}},
          "layer": [
            {
              "data": {"name": "grid"},
              "transform": [{"filter": "datum.g != 0"}],
              "mark": {"type": "rule", "color": "#c9c9c9", "strokeWidth": 1.5, "xOffset": -16, "x2Offset": 16},
              "encoding": {
                "x": {"datum": "W2", "type": "nominal", "scale": {"type": "point", "domain": ["W2", "W3", "W4", "W5", "W6", "W7"], "range": [84, 402], "padding": 0}, "axis": null},
                "x2": {"datum": "W7"},
                "y": {"field": "g", "type": "quantitative", "scale": {"domain": [-3.193, 1.558], "reverse": true, "zero": false, "nice": false}, "axis": null}
              }
            },
            {
              "data": {"name": "grid"},
              "mark": {"type": "text", "align": "right", "baseline": "middle", "fontSize": 18, "color": "#555555", "xOffset": -28},
              "encoding": {
                "x": {"datum": "W2", "type": "nominal", "scale": {"type": "point", "domain": ["W2", "W3", "W4", "W5", "W6", "W7"], "range": [84, 402], "padding": 0}, "axis": null},
                "y": {"field": "g", "type": "quantitative", "scale": {"domain": [-3.193, 1.558], "reverse": true, "zero": false, "nice": false}, "axis": null},
                "text": {"field": "g", "type": "quantitative", "format": ".1f"}
              }
            },
            {
              "data": {"values": [{}]},
              "mark": {"type": "rule", "color": "#1a1a1a", "strokeWidth": 1.5, "xOffset": -16, "x2Offset": 16},
              "encoding": {
                "x": {"datum": "W2", "type": "nominal", "scale": {"type": "point", "domain": ["W2", "W3", "W4", "W5", "W6", "W7"], "range": [84, 402], "padding": 0}, "axis": null},
                "x2": {"datum": "W7"},
                "y": {"datum": 0, "type": "quantitative", "scale": {"domain": [-3.193, 1.558], "reverse": true, "zero": false, "nice": false}, "axis": null}
              }
            },
            {
              "data": {"name": "lines"},
              "transform": [{"filter": "datum.panel == 'Language'"}],
              "mark": {"type": "line", "strokeWidth": 3.6},
              "encoding": {
                "x": {"field": "wave", "type": "nominal", "scale": {"type": "point", "domain": ["W2", "W3", "W4", "W5", "W6", "W7"], "range": [84, 402], "padding": 0},
                  "axis": {"orient": "bottom", "offset": -48, "domain": false, "ticks": false, "tickSize": 0, "grid": false, "labelPadding": 0, "labelBaseline": "middle", "labelAngle": 0, "labelFontSize": 23, "labelColor": "#8b7f77", "title": null}},
                "y": {"field": "value", "type": "quantitative", "scale": {"domain": [-3.193, 1.558], "reverse": true, "zero": false, "nice": false}, "axis": null},
                "color": {"field": "name", "type": "nominal", "scale": {"domain": ["Basic Literacy", "Advanced Literacy", "Basic Numeracy", "Interest in Literacy, Numeracy & Memory"], "range": ["#f7a3b9", "#f0679d", "#cc1c8a", "#7a2a80"]}, "legend": null}
              }
            },
            {
              "data": {"name": "lines"},
              "transform": [{"filter": "datum.panel == 'Language'"}],
              "mark": {"type": "point", "filled": true, "size": 110, "opacity": 1, "stroke": "white", "strokeWidth": 1.2},
              "encoding": {
                "x": {"field": "wave", "type": "nominal", "scale": {"type": "point", "domain": ["W2", "W3", "W4", "W5", "W6", "W7"], "range": [84, 402], "padding": 0},
                  "axis": {"orient": "bottom", "offset": -19, "domain": false, "ticks": false, "tickSize": 0, "grid": false, "labelPadding": 0, "labelBaseline": "middle", "labelAngle": 0, "labelFontSize": 17.5, "labelColor": "#231f20", "title": null,
                    "labelExpr": "datum.value == 'W2' ? '’04-’07' : datum.value == 'W3' ? '’07-’09' : datum.value == 'W4' ? '’09-’11' : datum.value == 'W5' ? '’11-’13' : datum.value == 'W6' ? '’13-’16' : '’16-’19'"}},
                "y": {"field": "value", "type": "quantitative", "scale": {"domain": [-3.193, 1.558], "reverse": true, "zero": false, "nice": false}, "axis": null},
                "color": {"field": "name", "type": "nominal", "scale": {"domain": ["Basic Literacy", "Advanced Literacy", "Basic Numeracy", "Interest in Literacy, Numeracy & Memory"], "range": ["#f7a3b9", "#f0679d", "#cc1c8a", "#7a2a80"]}, "legend": null}
              }
            }
          ]
        },
        {
          "data": {"name": "legend"},
          "transform": [{"filter": "datum.panel == 'Language'"}],
          "mark": {"type": "rule", "strokeWidth": 5, "strokeCap": "butt", "xOffset": -287, "x2Offset": -235, "yOffset": -25.6},
          "encoding": {
            "x": {"datum": "LT", "type": "nominal", "scale": {"type": "point", "domain": ["LT", "ST"], "range": [325, 390], "padding": 0}, "axis": null},
            "x2": {"datum": "LT"},
            "y": {"field": "name", "type": "nominal", "scale": {"type": "point", "domain": ["Basic Literacy", "Advanced Literacy", "Basic Numeracy", "Interest in Literacy, Numeracy & Memory"], "range": [71.3, 212.3], "padding": 0}, "axis": null},
            "color": {"field": "name", "type": "nominal", "scale": {"domain": ["Basic Literacy", "Advanced Literacy", "Basic Numeracy", "Interest in Literacy, Numeracy & Memory"], "range": ["#f7a3b9", "#f0679d", "#cc1c8a", "#7a2a80"]}, "legend": null}
          }
        },
        {
          "data": {"name": "legend"},
          "transform": [{"filter": "datum.panel == 'Language'"}],
          "mark": {"type": "text", "align": "left", "baseline": "alphabetic", "xOffset": -287, "fontSize": 20, "color": "#231f20", "lineBreak": "\n", "lineHeight": 25},
          "encoding": {
            "x": {"datum": "LT", "type": "nominal", "scale": {"type": "point", "domain": ["LT", "ST"], "range": [325, 390], "padding": 0}, "axis": null},
            "y": {"field": "name", "type": "nominal", "scale": {"type": "point", "domain": ["Basic Literacy", "Advanced Literacy", "Basic Numeracy", "Interest in Literacy, Numeracy & Memory"], "range": [71.3, 212.3], "padding": 0}, "axis": null},
            "text": {"field": "label"}
          }
        },
        {
          "data": {"name": "legend"},
          "transform": [{"filter": "datum.panel == 'Language'"}, {"fold": ["LT", "ST"], "as": ["col", "dir"]}],
          "mark": {"type": "point", "filled": true, "size": 840, "opacity": 1},
          "encoding": {
            "x": {"field": "col", "type": "nominal", "scale": {"type": "point", "domain": ["LT", "ST"], "range": [325, 390], "padding": 0}, "axis": null},
            "y": {"field": "name", "type": "nominal", "scale": {"type": "point", "domain": ["Basic Literacy", "Advanced Literacy", "Basic Numeracy", "Interest in Literacy, Numeracy & Memory"], "range": [58, 204], "padding": 0}, "axis": null},
            "shape": {"field": "dir", "type": "nominal", "scale": {"domain": ["down", "up", "none"], "range": ["triangle-down", "triangle-up", "circle"]}, "legend": null},
            "color": {"field": "dir", "type": "nominal", "scale": {"domain": ["down", "up", "none"], "range": ["#8cc488", "#dd6a36", "#ada197"]}, "legend": null}
          }
        },
        {
          "data": {"values": [{"col": "LT"}, {"col": "ST"}]},
          "mark": {"type": "text", "align": "center", "baseline": "alphabetic", "yOffset": -44, "fontSize": 17, "color": "#111111"},
          "encoding": {
            "x": {"field": "col", "type": "nominal", "scale": {"type": "point", "domain": ["LT", "ST"], "range": [325, 390], "padding": 0}, "axis": null},
            "y": {"datum": "Basic Literacy", "type": "nominal", "scale": {"type": "point", "domain": ["Basic Literacy", "Advanced Literacy", "Basic Numeracy", "Interest in Literacy, Numeracy & Memory"], "range": [71.3, 212.3], "padding": 0}, "axis": null},
            "text": {"field": "col"}
          }
        }
      ]
    }
  ]
}
